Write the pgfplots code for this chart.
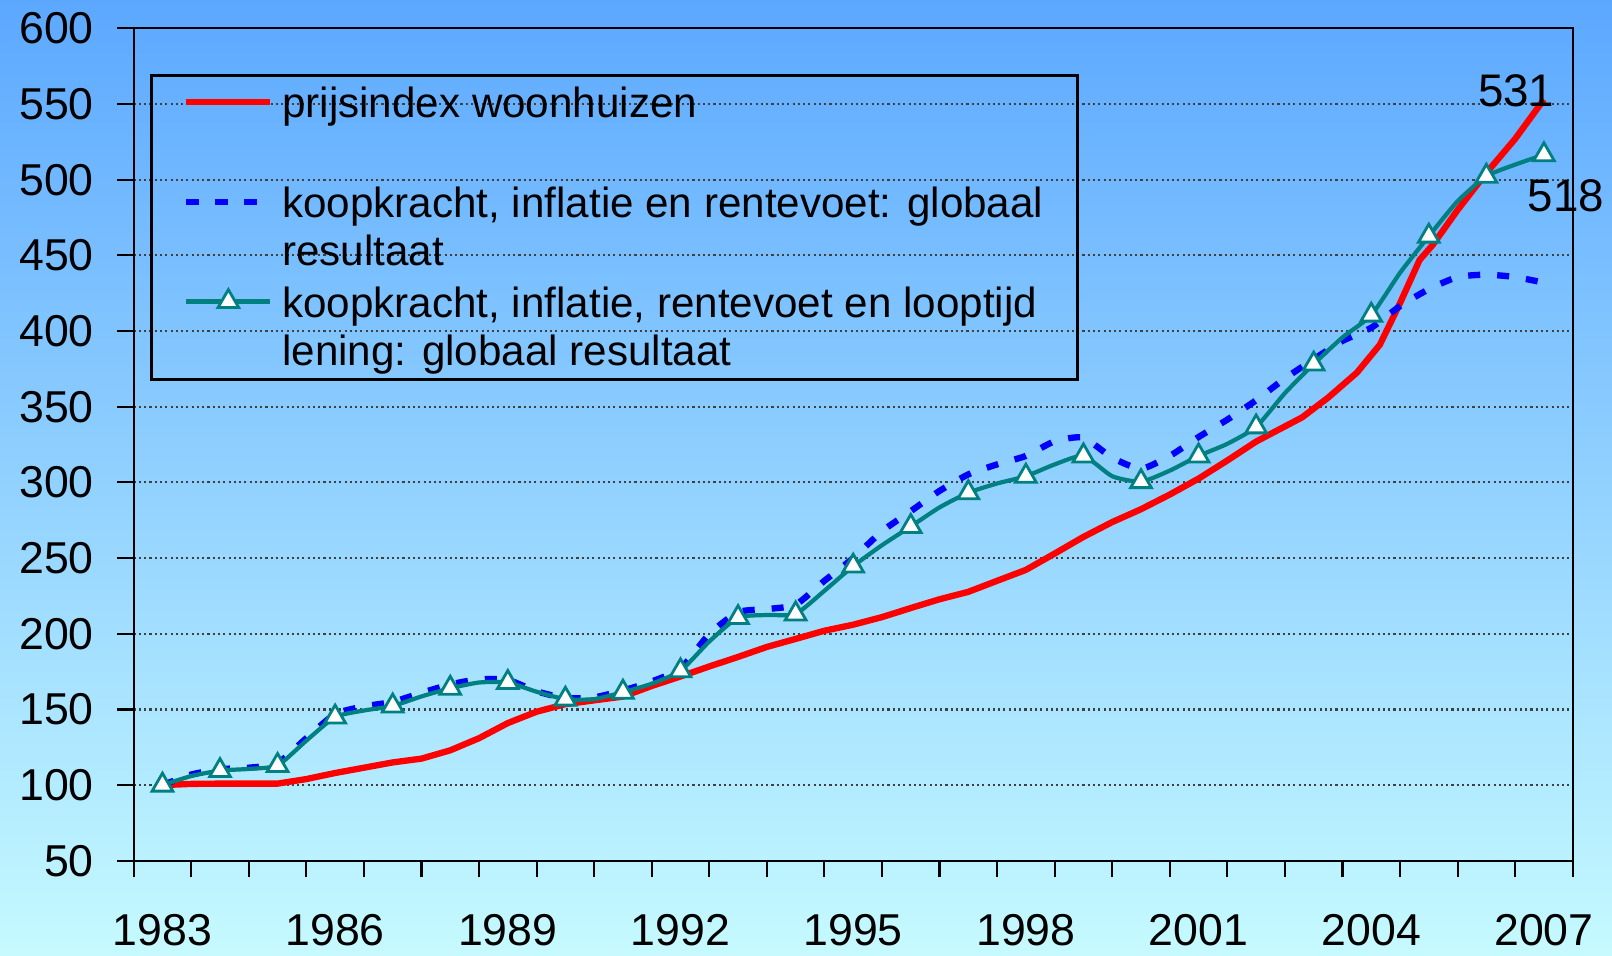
\documentclass[border=0pt]{standalone}
\usepackage{fontspec}
\setmainfont{Liberation Sans}
\usepackage{pgfplots}
\pgfplotsset{compat=1.18}
\usetikzlibrary{backgrounds}

\definecolor{redline}{RGB}{255,0,0}
\definecolor{blueline}{RGB}{0,0,255}
\definecolor{tealline}{RGB}{0,128,128}
\definecolor{bgtop}{RGB}{92,168,255}
\definecolor{bgmid}{RGB}{150,210,255}
\definecolor{bgbot}{RGB}{198,250,255}

\begin{document}
\begin{tikzpicture}
\begin{axis}[
    name=ax,
    scale only axis,
    width=14.393cm, height=8.326cm,
    xmin=1982.5, xmax=2007.5,
    ymin=50, ymax=600,
    xtick={1982.5,1983.5,...,2007.5},
    xticklabels={},
    extra x ticks={1983,1986,...,2007},
    extra x tick labels={1983,1986,1989,1992,1995,1998,2001,2004,2007},
    extra x tick style={major tick length=0pt, xticklabel style={yshift=-0.41cm}},
    ytick={50,100,...,600},
    yticklabel style={xshift=-0.11cm},
    tick pos=left,
    tick align=outside,
    major tick length=0.165cm,
    tick style={black, line width=0.6pt},
    axis line style={black, line width=0.6pt},
    ymajorgrids,
    major grid style={black!75, line width=0.6pt, dash pattern=on 0.6pt off 0.9pt},
    /pgf/number format/assume math mode=true,
    tick label style={font=\fontsize{12.7}{15}\selectfont},
    clip mode=individual,
    legend image code/.code={
        \path[draw=none, fill=none] (0cm,0cm) -- (0.1cm,0cm);
        \draw[#1, mark repeat=2, mark phase=2] plot coordinates {(0.1cm,0.155cm) (0.52cm,0.155cm) (0.94cm,0.155cm)};
    },
    legend style={
        at={(0,1)}, anchor=north west, xshift=0.163cm, yshift=-0.456cm,
        draw=black, line width=0.8pt, fill=none,
        inner xsep=0.25cm, inner ysep=0pt, row sep=-1.45pt,
        font=\fontsize{12}{13.66}\selectfont,
        cells={anchor=base west},
        nodes={inner xsep=2.5pt, inner ysep=0pt, text height=12.06pt, text depth=17.75pt}
    },
]

% prijsindex woonhuizen
\addplot[color=redline, line width=1.8pt, line join=round] coordinates {
    (1983,100) (1983.5,100.8) (1984,101) (1984.5,101) (1985,101) (1985.5,104)
    (1986,108) (1986.5,111.5) (1987,115) (1987.5,117.5) (1988,123) (1988.5,131)
    (1989,141) (1989.5,148.5) (1990,153.5) (1990.5,156) (1991,158.5) (1991.5,165.5)
    (1992,171.8) (1992.5,178.4) (1993,184.7) (1993.5,191.3) (1994,196.6) (1994.5,202)
    (1995,206) (1995.5,211) (1996,217) (1996.5,222.8) (1997,227.7) (1997.5,235)
    (1998,242.2) (1998.5,253) (1999,264) (1999.5,273.8) (2000,282.3) (2000.5,292)
    (2001,302.5) (2001.5,314.5) (2002,327) (2002.5,337) (2002.8,343) (2003.25,356)
    (2003.75,372.5) (2004.15,391) (2004.5,418.5) (2004.84,447) (2005.07,457)
    (2005.5,480) (2006,504.5) (2006.5,527) (2007,553)
};
\addlegendentry{\begin{tabular}[t]{@{}l@{}}prijsindex woonhuizen\\ \mbox{}\end{tabular}}

% koopkracht, inflatie en rentevoet
\addplot[color=blueline, line width=1.8pt, dash pattern=on 0.12cm off 0.17cm, smooth, tension=0.35] coordinates {
    (1983,100) (1983.5,107) (1984,110.5) (1984.5,111.5) (1985,114.5) (1985.5,131)
    (1986,147) (1986.5,152) (1987,155) (1987.5,161) (1988,166.5) (1988.5,170)
    (1989,169.5) (1989.5,162) (1990,157.5) (1990.5,158) (1991,162.5) (1991.5,168.5)
    (1992,177) (1992.5,199.8) (1993,214.3) (1993.5,216.3) (1994,219.2) (1994.5,235)
    (1995,250) (1995.5,267.7) (1996,281) (1996.5,294.4) (1997,305.3) (1997.5,311.9)
    (1998,317.5) (1998.5,327.2) (1999,329.6) (1999.5,316.3) (2000,309) (2000.5,317.5)
    (2001,330) (2001.5,341.5) (2002,354.3) (2002.5,368.7) (2003,381.4) (2003.5,393.5)
    (2004,402.2) (2004.5,416.5) (2005,427.7) (2005.5,435.7) (2006,437.3) (2006.5,435.7)
    (2007,432)
};
\addlegendentry{\begin{tabular}[t]{@{}l@{}}koopkracht, inflatie en rentevoet: globaal\\resultaat\end{tabular}}

% koopkracht, inflatie, rentevoet en looptijd
\addplot[color=tealline, line width=1.2pt, smooth, tension=0.35,
    mark=triangle*, mark repeat=2, mark phase=1, mark size=3.4pt,
    mark options={solid, fill=white, draw=tealline, line width=0.8pt}] coordinates {
    (1983,100) (1983.5,106) (1984,109.6) (1984.5,110.7) (1985,113) (1985.5,129.4)
    (1986,145) (1986.5,149.3) (1987,152.3) (1987.5,158.6) (1988,164) (1988.5,167.8)
    (1989,167.8) (1989.5,161.7) (1990,156.8) (1990.5,156.8) (1991,161.4) (1991.5,167)
    (1992,175.5) (1992.5,194.9) (1993,210.7) (1993.5,212.4) (1994,213.1) (1994.5,228.4)
    (1995,244.7) (1995.5,258.5) (1996,270.9) (1996.5,283.5) (1997,293.2) (1997.5,299.3)
    (1998,304.1) (1998.5,311.9) (1999,317.5) (1999.5,304.1) (2000,300.5) (2000.5,307.8)
    (2001,317.5) (2001.5,325.5) (2002,336.7) (2002.5,359) (2003,378.2) (2003.5,395.8)
    (2004,410.5) (2004.5,438.5) (2005,462.7) (2005.5,485.8) (2006,502.3) (2006.5,510)
    (2007,516.5)
};
\addlegendentry{\begin{tabular}[t]{@{}l@{}}koopkracht, inflatie, rentevoet en looptijd\\lening: globaal resultaat\end{tabular}}

\node[font=\fontsize{13}{15}\selectfont] at (axis cs:2006.52,559) {531};
\node[font=\fontsize{13}{15}\selectfont] at (axis cs:2007.38,489.6) {518};
\end{axis}

\begin{scope}[on background layer]
\shade[top color=bgtop, middle color=bgmid, bottom color=bgbot]
    ([shift={(-1.337cm,-0.95cm)}]ax.south west) rectangle ([shift={(0.393cm,0.284cm)}]ax.north east);
\end{scope}
\pgfresetboundingbox
\useasboundingbox ([shift={(-1.337cm,-0.95cm)}]ax.south west) rectangle ([shift={(0.393cm,0.284cm)}]ax.north east);
\end{tikzpicture}
\end{document}
